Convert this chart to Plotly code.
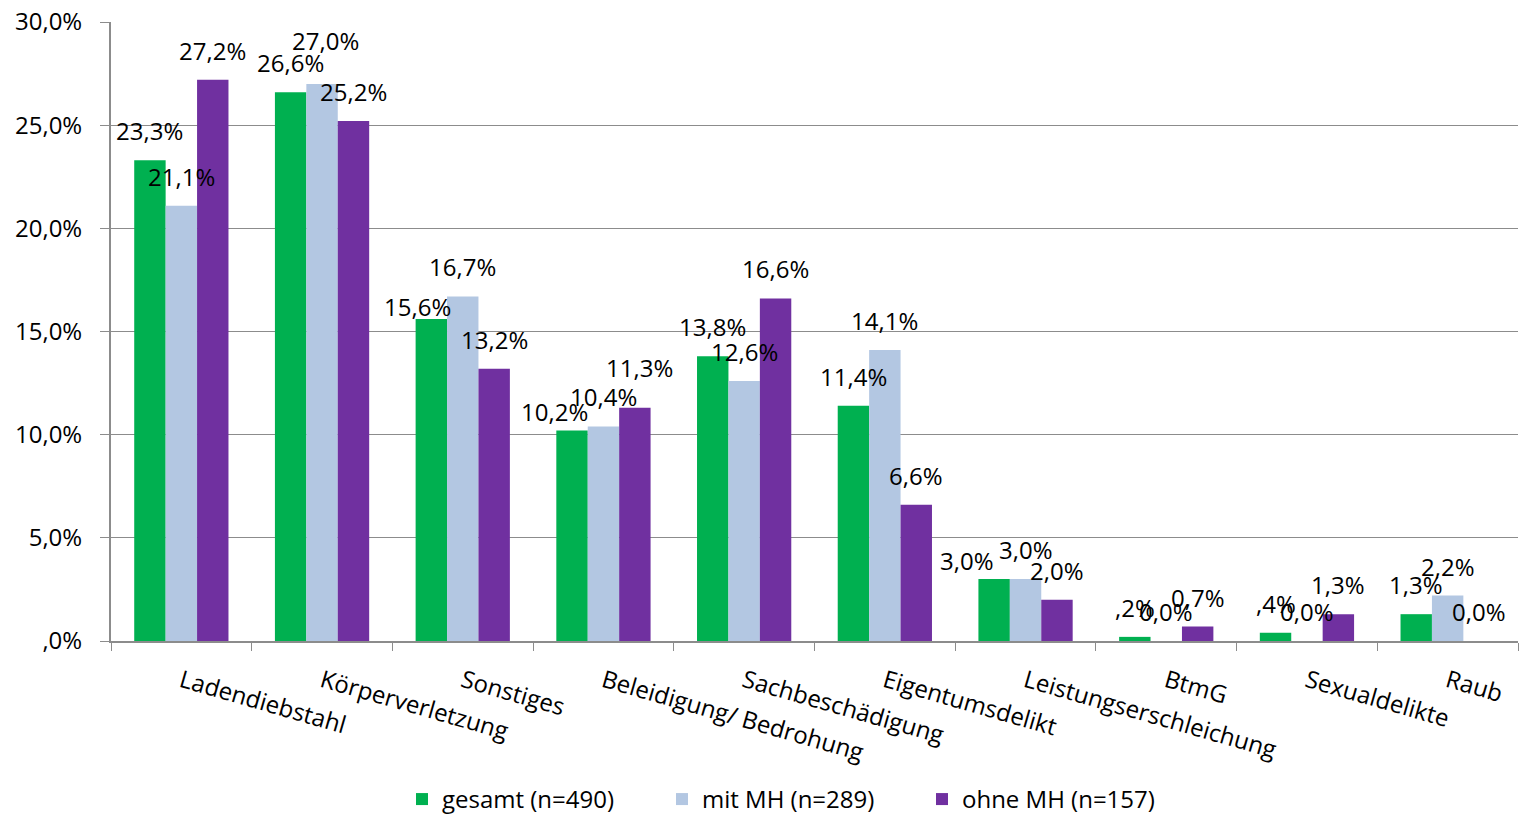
import plotly.graph_objects as go

# Delikte nach Migrationshintergrund (Anteile in %)
categories = [
    "Ladendiebstahl", "Körperverletzung", "Sonstiges", "Beleidigung/ Bedrohung",
    "Sachbeschädigung", "Eigentumsdelikt", "Leistungserschleichung", "BtmG",
    "Sexualdelikte", "Raub",
]
gesamt = [23.3, 26.6, 15.6, 10.2, 13.8, 11.4, 3.0, 0.2, 0.4, 1.3]
mit_mh = [21.1, 27.0, 16.7, 10.4, 12.6, 14.1, 3.0, 0.0, 0.0, 2.2]
ohne_mh = [27.2, 25.2, 13.2, 11.3, 16.6, 6.6, 2.0, 0.7, 1.3, 0.0]

series_names = ["gesamt (n=490)", "mit MH (n=289)", "ohne MH (n=157)"]
series_values = [gesamt, mit_mh, ohne_mh]
series_colors = ["#00B050", "#B3C7E2", "#7030A0"]
# gesamt labels use a format without leading zero (",2%")
series_drop_zero = [True, False, False]

y_ticks = [0, 5, 10, 15, 20, 25, 30]

FONT = "'Open Sans', sans-serif"
GRID = "#8C8C8C"
BARGAP = 0.33
FS = 24

# hand-placed data labels: (series index, category) -> (dx, dy) in px
LABEL_NUDGE = {
    (1, "Körperverletzung"): (3, 14),
    (0, "Sonstiges"): (-14, -17),
    (0, "Beleidigung/ Bedrohung"): (-18, -10),
    (2, "Beleidigung/ Bedrohung"): (5, 11),
    (0, "Leistungserschleichung"): (-27, -11),
}


def fmt(v, drop_zero=False):
    s = f"{v:.1f}".replace(".", ",") + "%"
    if drop_zero and s.startswith("0,") and v != 0:
        s = s[1:]
    return s


def tick_fmt(v):
    s = f"{v:.1f}".replace(".", ",") + "%"
    return s[1:] if s.startswith("0,") else s


fig = go.Figure()
for name, vals, col in zip(series_names, series_values, series_colors):
    fig.add_trace(go.Bar(
        x=categories, y=vals, name=name,
        marker=dict(color=col, line=dict(width=0)),
    ))

# value labels above each bar
n = len(series_values)
bar_w = (1 - BARGAP) / n
for s, (vals, dz) in enumerate(zip(series_values, series_drop_zero)):
    off = (s - (n - 1) / 2) * bar_w
    for i, v in enumerate(vals):
        dx, dy = LABEL_NUDGE.get((s, categories[i]), (0, 0))
        fig.add_annotation(
            x=i + off, y=v, xref="x", yref="y", text=fmt(v, dz),
            showarrow=False, yanchor="bottom", yshift=11 + dy, xshift=dx,
            font=dict(family=FONT, size=FS, color="#000000"),
        )

fig.update_layout(
    width=1520, height=818,
    margin=dict(l=111, r=2, t=22, b=177, autoexpand=False),
    paper_bgcolor="white", plot_bgcolor="white",
    barmode="group", bargap=BARGAP, bargroupgap=0,
    font=dict(family=FONT, size=FS, color="#000000"),
    legend=dict(
        orientation="h", x=0.484, xanchor="center", y=-0.256, yanchor="middle",
        font=dict(family=FONT, size=FS), traceorder="normal",
        entrywidth=215, entrywidthmode="pixels",
    ),
    showlegend=True,
)
fig.update_xaxes(
    type="category", tickangle=16, tickson="boundaries",
    ticks="outside", ticklen=8, tickcolor=GRID,
    showline=True, linecolor=GRID, linewidth=2,
    showgrid=False, ticklabelstandoff=15, automargin=False,
    tickfont=dict(family=FONT, size=FS),
)
fig.update_yaxes(
    range=[0, 30], tickvals=y_ticks, ticktext=[tick_fmt(v) for v in y_ticks],
    showgrid=True, gridcolor=GRID, gridwidth=1,
    showline=True, linecolor=GRID, linewidth=2,
    ticks="outside", ticklen=9, tickcolor=GRID,
    zeroline=False, ticklabelstandoff=13, automargin=False,
    tickfont=dict(family=FONT, size=FS),
)

fig.write_html("out.html")
